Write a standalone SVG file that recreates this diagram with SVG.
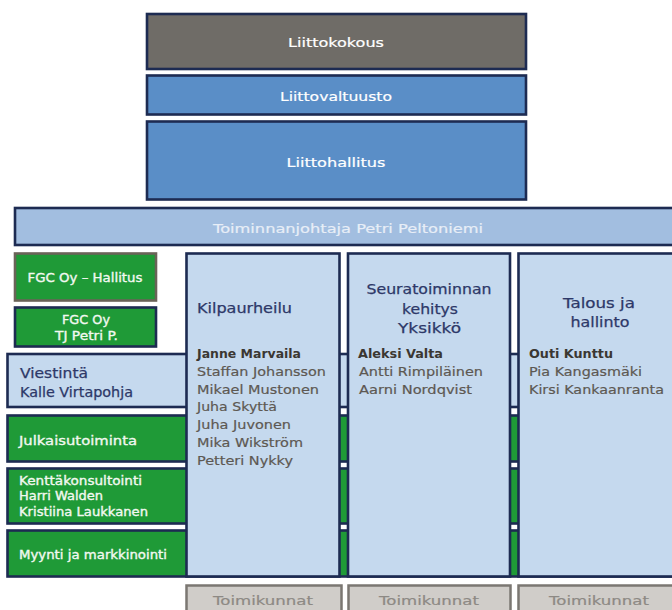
<svg xmlns="http://www.w3.org/2000/svg" width="672" height="610" viewBox="0 0 672 610">
<style>
.nv{stroke:#1d2b52;stroke-width:2.6}
.top{fill:#5a8ec7}
.lb{fill:#c5d9ee}
.gr{fill:#1f9a37}
.tm{fill:#d0cdc9;stroke:#7b7772;stroke-width:2.5}
text{font-family:"DejaVu Sans","Liberation Sans",sans-serif}
.w{fill:#ffffff;font-size:13px;stroke:#ffffff;stroke-width:0.2}
.wg{fill:#f2f8f0;font-size:12px;stroke:#f2f8f0;stroke-width:0.35}
.ttl{fill:#2d3868;font-size:14px;stroke:#2d3868;stroke-width:0.25}
.nm{fill:#5d5852;font-size:13px;stroke:#5d5852;stroke-width:0.2}
.bn{fill:#3b3732;font-size:13px;font-weight:bold}
.tk{fill:#8d8984;font-size:13px;stroke:#8d8984;stroke-width:0.2}
</style>
<rect width="672" height="610" fill="#ffffff"/>
<g id="liittokokous">
<rect x="147" y="14" width="379" height="55" fill="#6f6c67" class="nv"/>
<text class="w" x="336" y="47" text-anchor="middle" textLength="96" lengthAdjust="spacingAndGlyphs">Liittokokous</text>
</g>
<g id="liittovaltuusto">
<rect x="147" y="75.5" width="379" height="39" class="top nv"/>
<text class="w" x="336" y="101" text-anchor="middle" textLength="112" lengthAdjust="spacingAndGlyphs">Liittovaltuusto</text>
</g>
<g id="liittohallitus">
<rect x="147" y="121.5" width="379" height="78" class="top nv"/>
<text class="w" x="336" y="167" text-anchor="middle" textLength="99" lengthAdjust="spacingAndGlyphs">Liittohallitus</text>
</g>
<g id="toiminnanjohtaja">
<rect x="15" y="208" width="680" height="37" fill="#a2bee0" class="nv"/>
<text x="348" y="233" text-anchor="middle" style="fill:#e8eef7;font-size:13px;stroke:#e8eef7;stroke-width:0.2" textLength="270" lengthAdjust="spacingAndGlyphs">Toiminnanjohtaja Petri Peltoniemi</text>
</g>
<g id="viestinta">
<rect x="7.5" y="354" width="690" height="53" class="lb nv"/>
<text class="ttl" x="20" y="378" style="font-size:13.5px" textLength="68" lengthAdjust="spacingAndGlyphs">Viestintä</text>
<text class="ttl" x="20" y="397" style="font-size:13.5px" textLength="113" lengthAdjust="spacingAndGlyphs">Kalle Virtapohja</text>
</g>
<g id="julkaisutoiminta">
<rect x="7.5" y="415.5" width="690" height="46" class="gr nv"/>
<text class="wg" x="19" y="445" style="font-size:13px" textLength="118" lengthAdjust="spacingAndGlyphs">Julkaisutoiminta</text>
</g>
<g id="kenttakonsultointi">
<rect x="7.5" y="468.5" width="690" height="55" class="gr nv"/>
<text class="wg" x="19" y="485" style="font-size:11.5px" textLength="123" lengthAdjust="spacingAndGlyphs">Kenttäkonsultointi</text>
<text class="wg" x="19" y="500" style="font-size:11.5px" textLength="84" lengthAdjust="spacingAndGlyphs">Harri Walden</text>
<text class="wg" x="19" y="516" style="font-size:11.5px" textLength="129" lengthAdjust="spacingAndGlyphs">Kristiina Laukkanen</text>
</g>
<g id="myynti">
<rect x="7.5" y="530.5" width="690" height="46" class="gr nv"/>
<text class="wg" x="19" y="559" style="font-size:11.5px" textLength="148" lengthAdjust="spacingAndGlyphs">Myynti ja markkinointi</text>
</g>
<g id="fgc-hallitus">
<rect x="15" y="253.5" width="141" height="47" class="gr" stroke="#6a6358" stroke-width="2.6"/>
<text class="wg" x="85" y="282" text-anchor="middle" textLength="115" lengthAdjust="spacingAndGlyphs">FGC Oy – Hallitus</text>
</g>
<g id="fgc-tj">
<rect x="15" y="307.5" width="141" height="39" class="gr nv"/>
<text class="wg" x="86" y="324" text-anchor="middle" textLength="48" lengthAdjust="spacingAndGlyphs">FGC Oy</text>
<text class="wg" x="86.5" y="340" text-anchor="middle" textLength="63" lengthAdjust="spacingAndGlyphs">TJ Petri P.</text>
</g>
<g id="kilpaurheilu">
<rect x="186.5" y="253.5" width="153" height="323" class="lb nv"/>
<text class="ttl" x="197" y="313" textLength="95" lengthAdjust="spacingAndGlyphs">Kilpaurheilu</text>
<text class="bn" x="197" y="358" textLength="104" lengthAdjust="spacingAndGlyphs">Janne Marvaila</text>
<text class="nm" x="197" y="376" textLength="129" lengthAdjust="spacingAndGlyphs">Staffan Johansson</text>
<text class="nm" x="197" y="393.5" textLength="122" lengthAdjust="spacingAndGlyphs">Mikael Mustonen</text>
<text class="nm" x="197" y="411" textLength="80" lengthAdjust="spacingAndGlyphs">Juha Skyttä</text>
<text class="nm" x="197" y="429" textLength="94" lengthAdjust="spacingAndGlyphs">Juha Juvonen</text>
<text class="nm" x="197" y="447" textLength="106" lengthAdjust="spacingAndGlyphs">Mika Wikström</text>
<text class="nm" x="197" y="465" textLength="96" lengthAdjust="spacingAndGlyphs">Petteri Nykky</text>
</g>
<g id="seuratoiminta">
<rect x="348" y="253.5" width="162" height="323" class="lb nv"/>
<text class="ttl" x="429" y="294" text-anchor="middle" textLength="125" lengthAdjust="spacingAndGlyphs">Seuratoiminnan</text>
<text class="ttl" x="430" y="314" text-anchor="middle" textLength="56" lengthAdjust="spacingAndGlyphs">kehitys</text>
<text class="ttl" x="429.5" y="333" text-anchor="middle" textLength="63" lengthAdjust="spacingAndGlyphs">Yksikkö</text>
<text class="bn" x="358" y="358" textLength="85" lengthAdjust="spacingAndGlyphs">Aleksi Valta</text>
<text class="nm" x="359" y="376" textLength="124" lengthAdjust="spacingAndGlyphs">Antti Rimpiläinen</text>
<text class="nm" x="359" y="393.5" textLength="113" lengthAdjust="spacingAndGlyphs">Aarni Nordqvist</text>
</g>
<g id="talous">
<rect x="518.5" y="253.5" width="170" height="323" class="lb nv"/>
<text class="ttl" x="599" y="308" text-anchor="middle" textLength="72" lengthAdjust="spacingAndGlyphs">Talous ja</text>
<text class="ttl" x="600" y="327" text-anchor="middle" textLength="59" lengthAdjust="spacingAndGlyphs">hallinto</text>
<text class="bn" x="529" y="358" textLength="84" lengthAdjust="spacingAndGlyphs">Outi Kunttu</text>
<text class="nm" x="529" y="376" textLength="113" lengthAdjust="spacingAndGlyphs">Pia Kangasmäki</text>
<text class="nm" x="529" y="393.5" textLength="135" lengthAdjust="spacingAndGlyphs">Kirsi Kankaanranta</text>
</g>
<g id="toimikunnat-1">
<rect x="186.5" y="585.5" width="155" height="30" class="tm"/>
<text class="tk" x="263" y="605" text-anchor="middle" textLength="100" lengthAdjust="spacingAndGlyphs">Toimikunnat</text>
</g>
<g id="toimikunnat-2">
<rect x="348.5" y="585.5" width="162" height="30" class="tm"/>
<text class="tk" x="429" y="605" text-anchor="middle" textLength="100" lengthAdjust="spacingAndGlyphs">Toimikunnat</text>
</g>
<g id="toimikunnat-3">
<rect x="518.5" y="585.5" width="170" height="30" class="tm"/>
<text class="tk" x="599" y="605" text-anchor="middle" textLength="100" lengthAdjust="spacingAndGlyphs">Toimikunnat</text>
</g>
</svg>
